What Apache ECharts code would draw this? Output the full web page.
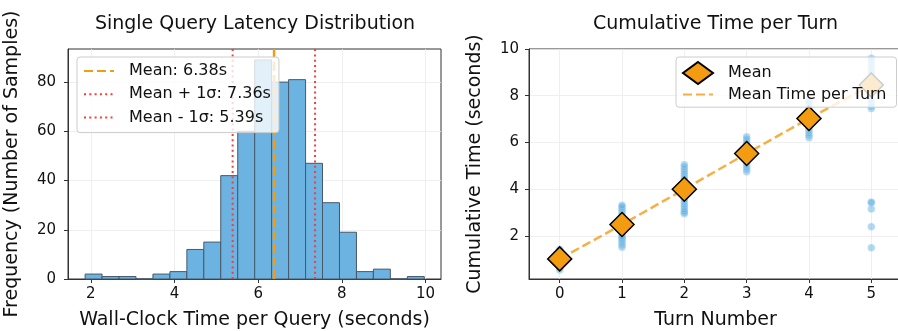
<!DOCTYPE html>
<html><head><meta charset="utf-8">
<script src="https://cdn.jsdelivr.net/npm/echarts@6/dist/echarts.min.js"></script>
<style>html,body{margin:0;padding:0;background:#fff}#c{width:898px;height:331px}</style>
</head><body><div id="c"></div>
<script>
// ---- Left: histogram data ----
const binEdges = [1.864, 2.269, 2.675, 3.080, 3.485, 3.891, 4.296, 4.701, 5.106, 5.512, 5.917,
                  6.322, 6.728, 7.133, 7.538, 7.944, 8.349, 8.754, 9.159, 9.565, 9.970];
const binCounts = [2, 1, 1, 0, 2, 3, 12, 15, 42, 60, 89, 80, 81, 47, 31, 19, 3, 4, 0, 1];
const meanValue = 6.38;
const plusSigma = 7.36;
const minusSigma = 5.39;
const histXRange = [1.455, 10.37];
const histYRange = [0, 93.45];
const histXTicks = [2, 4, 6, 8, 10];
const histYTicks = [0, 20, 40, 60, 80];
const legendNamesLeft = ['Mean: 6.38s', 'Mean + 1σ: 7.36s', 'Mean - 1σ: 5.39s'];

// ---- Right: cumulative time data ----
const turns = [0, 1, 2, 3, 4, 5];
const turnSamples = [
  [0.55, 0.62, 0.68, 0.72, 0.78, 0.85, 0.9, 0.95, 1.0, 1.05, 1.1, 1.15, 1.2, 1.28, 1.35, 1.42],
  [1.52, 1.6, 1.7, 1.78, 1.85, 1.9, 1.95, 2.0, 2.1, 2.3, 2.5, 2.7, 2.9, 3.0, 3.1, 3.18, 3.25, 3.32],
  [2.95, 3.0, 3.05, 3.15, 3.25, 3.35, 3.45, 3.55, 3.65, 3.8, 4.0, 4.2, 4.35, 4.45, 4.55, 4.65, 4.75, 4.85, 4.95, 5.05],
  [4.75, 4.85, 4.95, 5.05, 5.15, 5.25, 5.4, 5.6, 5.75, 5.85, 5.95, 6.05, 6.15, 6.25],
  [6.2, 6.3, 6.4, 6.5, 6.6, 6.7, 6.8, 6.9, 7.0, 7.1, 7.3, 7.5, 7.6, 7.7, 7.8],
  [7.45, 7.55, 7.7, 7.85, 8.0, 8.15, 8.3, 8.45, 8.6, 8.75, 8.9, 9.05, 9.2, 9.35, 9.5, 9.6, 3.45, 3.42, 3.15, 2.4, 1.5]
];
const turnMeans = [1.02, 2.49, 4.0, 5.53, 7.03, 8.46];
const cumXRange = [-0.4925, 5.4925];
const cumYRange = [0.16, 10];
const cumYTicks = [2, 4, 6, 8, 10];

// ---- build ----
const FONT = 'DejaVu Sans';
const histData = binCounts.map((c, i) => [binEdges[i], binEdges[i + 1], c]);
const scatterData = [];
turnSamples.forEach((arr, t) => arr.forEach(v => scatterData.push([turns[t], v])));
const meanData = turns.map((t, i) => [t, turnMeans[i]]);

function axisCommon(extra) {
  return Object.assign({
    type: 'value',
    axisLine: { show: true, onZero: false, lineStyle: { color: '#333', width: 1 } },
    axisTick: { show: true, length: 4, lineStyle: { color: '#333', width: 1 } },
    axisLabel: { fontFamily: FONT, fontSize: 15, color: '#111' },
    splitLine: { show: true, lineStyle: { color: '#ebebeb', width: 0.8 } },
    nameLocation: 'middle',
    nameTextStyle: { fontFamily: FONT, fontSize: 19, color: '#111' }
  }, extra);
}

const chart = echarts.init(document.getElementById('c'), null, { renderer: 'canvas' });
chart.setOption({
  animation: false,
  backgroundColor: '#fff',
  graphic: [
    { type: 'text', x: 255, y: 24, style: { text: 'Single Query Latency Distribution', font: '19px "DejaVu Sans"', fill: '#111', textAlign: 'center', textVerticalAlign: 'middle' } },
    { type: 'text', x: 715.5, y: 24, style: { text: 'Cumulative Time per Turn', font: '19px "DejaVu Sans"', fill: '#111', textAlign: 'center', textVerticalAlign: 'middle' } }
  ],
  grid: [
    { left: 68, top: 49, width: 373, height: 230, show: true, borderColor: '#333', borderWidth: 1, backgroundColor: 'transparent', containLabel: false, outerBoundsMode: 'none' },
    { left: 529, top: 49, width: 373, height: 230, show: true, borderColor: '#333', borderWidth: 1, backgroundColor: 'transparent', containLabel: false, outerBoundsMode: 'none' }
  ],
  xAxis: [
    axisCommon({ gridIndex: 0, min: histXRange[0], max: histXRange[1], name: 'Wall-Clock Time per Query (seconds)', nameGap: 32,
      axisTick: { show: true, length: 4, customValues: histXTicks, lineStyle: { color: '#333' } },
      axisLabel: { fontFamily: FONT, fontSize: 15, color: '#111', margin: 8, customValues: histXTicks } }),
    axisCommon({ gridIndex: 1, min: cumXRange[0], max: cumXRange[1], name: 'Turn Number', nameGap: 32,
      axisTick: { show: true, length: 4, customValues: turns, lineStyle: { color: '#333' } },
      axisLabel: { fontFamily: FONT, fontSize: 15, color: '#111', margin: 8, customValues: turns } })
  ],
  yAxis: [
    axisCommon({ gridIndex: 0, min: histYRange[0], max: histYRange[1], name: 'Frequency (Number of Samples)', nameGap: 46,
      axisTick: { show: true, length: 4, customValues: histYTicks, lineStyle: { color: '#333' } },
      axisLabel: { fontFamily: FONT, fontSize: 15, color: '#111', margin: 12, customValues: histYTicks } }),
    axisCommon({ gridIndex: 1, min: cumYRange[0], max: cumYRange[1], name: 'Cumulative Time (seconds)', nameGap: 44,
      axisTick: { show: true, length: 4, customValues: cumYTicks, lineStyle: { color: '#333' } },
      axisLabel: { fontFamily: FONT, fontSize: 15, color: '#111', margin: 10, customValues: cumYTicks } })
  ],
  legend: [
    {
      data: legendNamesLeft, z: 20,
      orient: 'vertical', left: 77, top: 57,
      itemWidth: 30, itemHeight: 16, itemGap: 7.3,
      padding: [6, 8, 7, 6],
      backgroundColor: 'rgba(255,255,255,0.8)', borderColor: '#cccccc', borderWidth: 1, borderRadius: 3,
      textStyle: { fontFamily: FONT, fontSize: 16, color: '#111', padding: [0, 0, 0, 10] },
      selectedMode: false
    },
    {
      data: ['Mean', 'Mean Time per Turn'], z: 20,
      orient: 'vertical', left: 676, top: 57,
      itemWidth: 30, itemHeight: 22, itemGap: 0.6,
      padding: [4, 10, 4, 6],
      backgroundColor: 'rgba(255,255,255,0.8)', borderColor: '#cccccc', borderWidth: 1, borderRadius: 3,
      textStyle: { fontFamily: FONT, fontSize: 16, color: '#111', padding: [0, 0, 0, 10] },
      selectedMode: false
    }
  ],
  series: [
    {
      type: 'custom', xAxisIndex: 0, yAxisIndex: 0, silent: true, z: 2,
      data: histData,
      encode: { x: [0, 1], y: 2 },
      renderItem: function (params, api) {
        const p0 = api.coord([api.value(0), api.value(2)]);
        const p1 = api.coord([api.value(1), 0]);
        return { type: 'rect', shape: { x: p0[0], y: p0[1], width: p1[0] - p0[0], height: p1[1] - p0[1] },
          style: { fill: '#6CB3E2', stroke: '#46596a', lineWidth: 1 } };
      }
    },
    {
      name: legendNamesLeft[0], type: 'line', xAxisIndex: 0, yAxisIndex: 0, symbol: 'none', silent: true, z: 3,
      data: [[meanValue, histYRange[0]], [meanValue, histYRange[1]]],
      lineStyle: { color: '#F39C12', width: 2.5, type: [9, 4] }, itemStyle: { color: '#F39C12', opacity: 0 }
    },
    {
      name: legendNamesLeft[1], type: 'line', xAxisIndex: 0, yAxisIndex: 0, symbol: 'none', silent: true, z: 3,
      data: [[plusSigma, histYRange[0]], [plusSigma, histYRange[1]]],
      lineStyle: { color: '#F43D3D', width: 2, type: [2, 3.3] }, itemStyle: { color: '#F43D3D', opacity: 0 }
    },
    {
      name: legendNamesLeft[2], type: 'line', xAxisIndex: 0, yAxisIndex: 0, symbol: 'none', silent: true, z: 3,
      data: [[minusSigma, histYRange[0]], [minusSigma, histYRange[1]]],
      lineStyle: { color: '#F43D3D', width: 2, type: [2, 3.3] }, itemStyle: { color: '#F43D3D', opacity: 0 }
    },
    {
      type: 'scatter', xAxisIndex: 1, yAxisIndex: 1, silent: true, z: 2,
      data: scatterData, symbol: 'circle', symbolSize: 7.5,
      itemStyle: { color: 'rgba(93,173,226,0.6)', borderColor: 'rgba(255,255,255,0.5)', borderWidth: 0.5 }
    },
    {
      name: 'Mean Time per Turn', type: 'line', xAxisIndex: 1, yAxisIndex: 1, symbol: 'none', silent: true, z: 3,
      data: meanData,
      lineStyle: { color: 'rgba(243,156,18,0.8)', width: 2.5, type: [9, 4] }, itemStyle: { color: 'rgba(243,156,18,0.8)', opacity: 0 }
    },
    {
      name: 'Mean', type: 'scatter', xAxisIndex: 1, yAxisIndex: 1, silent: true, z: 4,
      data: meanData, symbol: 'diamond', symbolSize: [24, 24],
      itemStyle: { color: '#F39C12', borderColor: '#000', borderWidth: 1.5, opacity: 1 }
    }
  ]
});
</script></body></html>
